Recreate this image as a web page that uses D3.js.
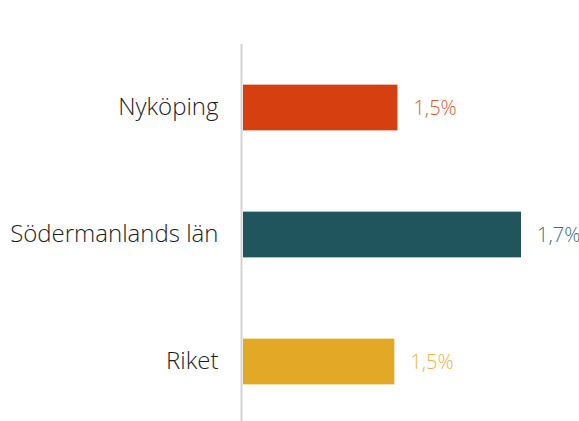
<!DOCTYPE html>
<html>
<head>
<meta charset="utf-8">
<script src="https://cdn.jsdelivr.net/npm/d3@7"></script>
<style>
  body { margin: 0; background: #fff; }
  .label { font-family: "Open Sans", sans-serif; font-weight: 300; font-size: 24px; fill: #1e1e1e; }
  .value { font-family: "Open Sans", sans-serif; font-weight: 300; font-size: 20px; }
</style>
</head>
<body>
<script>
    var categories = ["Nyköping", "Södermanlands län", "Riket"]; //regions
    var values = [1.5, 1.7, 1.495]; //percent
    var barColors = ["#d63f0f", "#20555e", "#e3a826"];
    var textColors = ["#e05a2a", "#3f6d75", "#ebb343"];

    var width = 579,
        height = 421;

    var svg = d3.select("body")
        .append("svg")
        .attr("width", width)
        .attr("height", height);

    //x axis doesn't start at zero in the original
    var xScale = d3.scaleLinear()
        .domain([1.25, 1.7])
        .range([243, 521]);

    var yScale = d3.scaleBand()
        .domain(categories)
        .range([44, 425])
        .paddingInner(0.64)
        .paddingOuter(0.32);

    var fmt = d3.format(".1f");

    var data = categories.map(function(c, i){
        return {name: c, value: values[i], i: i};
    });

    //bars
    svg.selectAll(".bar")
        .data(data)
        .enter()
        .append("rect")
        .attr("class", "bar")
        .attr("x", xScale.range()[0])
        .attr("y", function(d){ return yScale(d.name); })
        .attr("width", function(d){ return xScale(d.value) - xScale.range()[0]; })
        .attr("height", yScale.bandwidth())
        .style("fill", function(d){ return barColors[d.i]; });

    //vertical axis line with category labels
    var yAxis = d3.axisLeft(yScale)
        .tickSize(0)
        .tickPadding(23);

    var axis = svg.append("g")
        .attr("transform", "translate(" + 241.5 + ",0)")
        .call(yAxis);

    axis.select(".domain").remove();
    axis.selectAll("text")
        .attr("class", "label")
        .attr("dy", "0.32em");

    svg.append("line")
        .attr("x1", 241.5)
        .attr("x2", 241.5)
        .attr("y1", 44)
        .attr("y2", height)
        .style("stroke", "#d4d4d4")
        .style("stroke-width", 2);

    //value labels
    svg.selectAll(".value")
        .data(data)
        .enter()
        .append("text")
        .attr("class", "value")
        .attr("x", function(d){ return xScale(d.value) + 16; })
        .attr("y", function(d){ return yScale(d.name) + yScale.bandwidth() / 2; })
        .attr("dy", "0.35em")
        .style("fill", function(d){ return textColors[d.i]; })
        .text(function(d){ return fmt(d.value).replace(".", ",") + "%"; });
</script>
</body>
</html>
